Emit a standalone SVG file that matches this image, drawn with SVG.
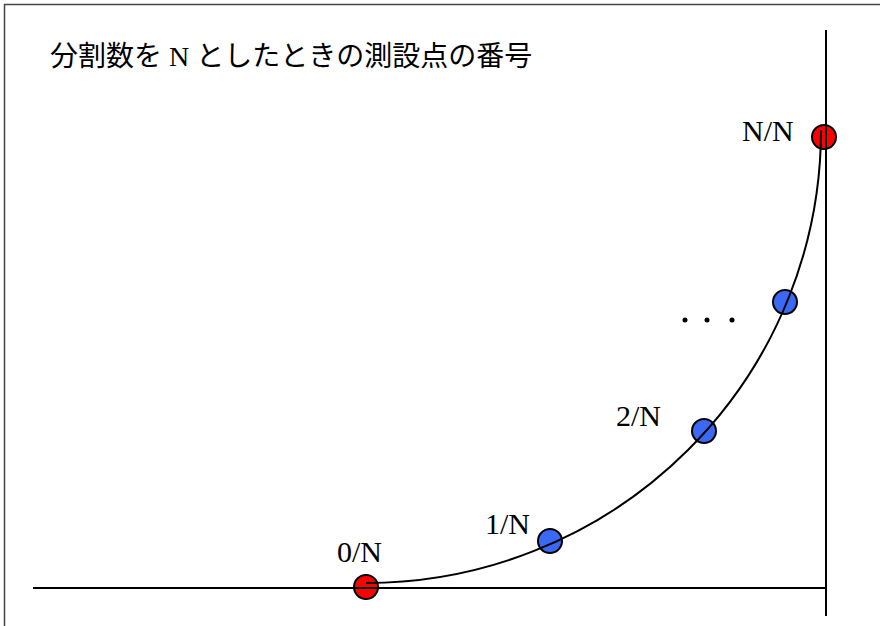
<svg xmlns="http://www.w3.org/2000/svg" width="880" height="626" viewBox="0 0 880 626">
<style>
.t{font-family:"Liberation Serif","Noto Sans CJK JP",serif;font-size:28px;fill:#000}
.l{font-family:"Liberation Serif",serif;font-size:30px;fill:#000}
.red{fill:#ff0000;stroke:#000;stroke-width:2}
.blue{fill:#3a6af5;stroke:#000;stroke-width:2}
.ln{fill:none;stroke:#000;stroke-width:2}
</style>
<rect x="0" y="0" width="880" height="626" fill="#fff"/>
<path d="M4.5,626 V4.5 H880" fill="none" stroke="#444" stroke-width="1.5"/>
<text class="t" x="50" y="66">分割数を N としたときの測設点の番号</text>
<g id="p0"><circle class="red" cx="366" cy="587" r="12"/><text class="l" x="337" y="562">0/N</text></g>
<g id="p1"><circle class="blue" cx="550" cy="541" r="12"/><text class="l" x="485" y="534">1/N</text></g>
<g id="p2"><circle class="blue" cx="704" cy="431" r="12"/><text class="l" x="616" y="426">2/N</text></g>
<g id="p3"><circle class="blue" cx="785" cy="302" r="12"/></g>
<g id="pN"><circle class="red" cx="824" cy="137" r="12"/><text class="l" x="742" y="141">N/N</text></g>
<g id="dots" fill="#000"><circle cx="685" cy="320" r="2.5"/><circle cx="707" cy="320" r="2.5"/><circle cx="732" cy="320" r="2.5"/></g>
<g id="connectors">
<line class="ln" x1="33" y1="588" x2="826" y2="588"/>
<line class="ln" x1="826" y1="30" x2="826" y2="616"/>
<path class="ln" d="M366,583 A455,453 0 0 0 821,130"/>
</g>
</svg>
